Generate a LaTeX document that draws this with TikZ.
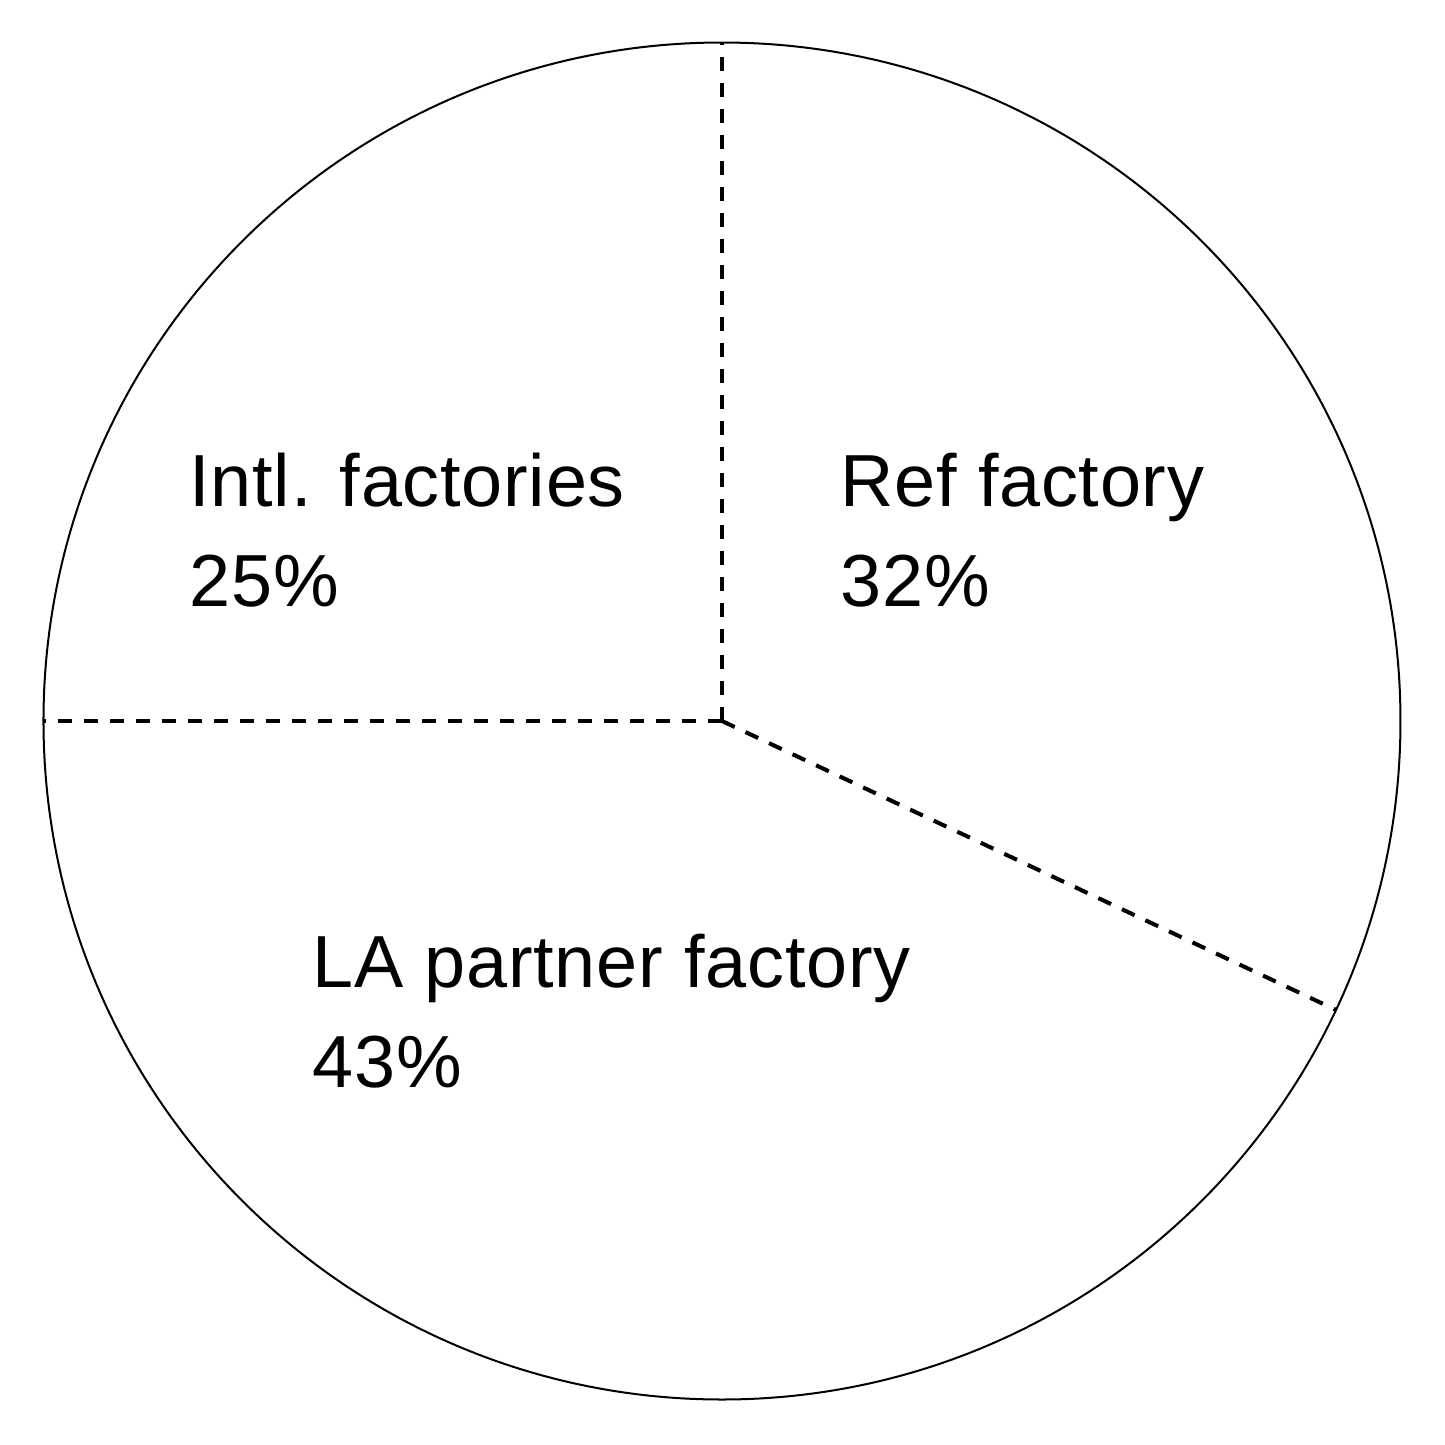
\documentclass[tikz,border=0pt]{standalone}
\usepackage{fontspec}
\setmainfont[LetterSpace=1.0]{Liberation Sans}
\usepackage{tikz}
\usetikzlibrary{calc}
\tikzset{
  rim/.style={line width=0.57pt},
  cutline/.style={line width=1.15pt, dash pattern=on 0.14cm off 0.12cm},
  slicetext/.style={anchor=base west, inner sep=0pt, font=\fontsize{21}{25}\selectfont}
}
\begin{document}
\begin{tikzpicture}
        \useasboundingbox (-7.22,-7.24) rectangle (7.23,7.21);
        % pie
        \coordinate (o) at (0,0);
        \draw[rim] (o) circle (6.785);
        \coordinate (top) at (90:6.785);
        \coordinate (left) at (180:6.785);
        \coordinate (cut) at (-25.2:6.785);
        \draw[cutline] (o) -- (top);
        \draw[cutline] (o) -- (left);
        \draw[cutline] (o) -- (cut);
        % labels
        \node[slicetext] (intl) at (-5.33,2.15) {Intl. factories};
        \node[slicetext] (intlpct) at ([yshift=-1cm]intl.base west) {25\%};
        \node[slicetext] (ref) at (1.18,2.15) {Ref factory};
        \node[slicetext] (refpct) at ([yshift=-1cm]ref.base west) {32\%};
        \node[slicetext] (la) at (-4.10,-2.66) {LA partner factory};
        \node[slicetext] (lapct) at ([yshift=-1cm]la.base west) {43\%};
\end{tikzpicture}
\end{document}
